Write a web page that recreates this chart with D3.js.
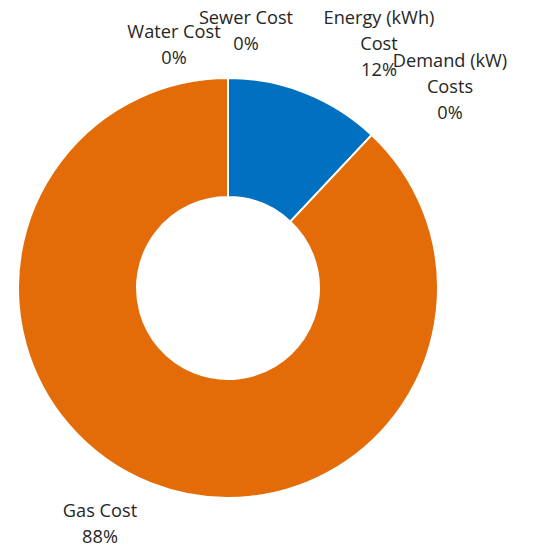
<!DOCTYPE html>
<html>
<head>
<meta charset="utf-8">
<script src="https://cdn.jsdelivr.net/npm/d3@7/dist/d3.min.js"></script>
<style>
  html, body { margin: 0; padding: 0; background: #fff; }
  svg { display: block; }
  text { font-family: "Open Sans", Lato, sans-serif; fill: #262626; }
</style>
</head>
<body>
<svg id="chart" width="535" height="549"></svg>
<script>
// Cost breakdown (clockwise from 12 o'clock)
const categories = ["Energy (kWh) Cost", "Demand (kW) Costs", "Gas Cost", "Water Cost", "Sewer Cost"];
const values     = [12, 0, 88, 0, 0];
const colors     = ["#0070C0", "#ED7D31", "#E36C09", "#A5A5A5", "#FFC000"];

// Label text lines and anchor points (center x, first baseline y)
const labelLines = [
  ["Energy (kWh)", "Cost"],
  ["Demand (kW)", "Costs"],
  ["Gas Cost"],
  ["Water Cost"],
  ["Sewer Cost"]
];
const labelAnchor = [[379, 24], [450, 67], [100, 517], [174, 38], [246, 24]];

const svg = d3.select("#chart");
const cx = 228, cy = 288, outerR = 210, innerR = 91;

const total = d3.sum(values);
const pie = d3.pie().sort(null).value(d => d)(values);
const arc = d3.arc().innerRadius(innerR).outerRadius(outerR);

const g = svg.append("g").attr("transform", `translate(${cx},${cy})`);
g.selectAll("path")
  .data(pie.filter(d => d.data > 0))
  .join("path")
  .attr("d", arc)
  .attr("fill", d => colors[d.index])
  .attr("stroke", "#fff")
  .attr("stroke-width", 2);

const fmt = d3.format(".0%");
const lineH = 26;
categories.forEach((c, i) => {
  const lines = labelLines[i].concat([fmt(values[i] / total)]);
  const t = svg.append("text")
    .attr("text-anchor", "middle")
    .attr("font-size", 18.2);
  lines.forEach((s, k) => {
    t.append("tspan")
      .attr("x", labelAnchor[i][0])
      .attr("y", labelAnchor[i][1] + k * lineH)
      .text(s);
  });
});
</script>
</body>
</html>
